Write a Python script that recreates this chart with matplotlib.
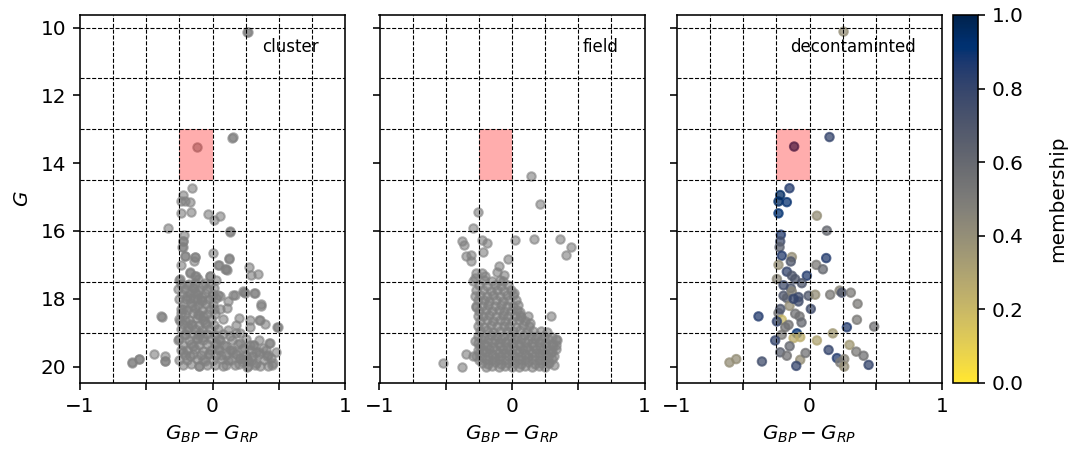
import numpy as np
import matplotlib
matplotlib.use('Agg')
import matplotlib.pyplot as plt
from matplotlib.patches import Rectangle
from matplotlib.cm import ScalarMappable
from matplotlib.colors import Normalize

# decontaminated members: (colour, G, membership)
decon_pts = [
    (0.257, 10.12, 0.40), (0.151, 13.23, 0.80), (-0.116, 13.51, 0.95),
    (-0.151, 14.74, 0.85), (-0.221, 14.94, 0.95), (-0.234, 15.13, 0.95),
    (-0.171, 15.15, 0.90), (-0.234, 15.48, 0.92), (0.056, 15.55, 0.40),
    (0.131, 15.99, 0.60), (-0.216, 16.11, 0.85), (-0.221, 16.31, 0.75),
    (-0.226, 16.48, 0.65), (-0.209, 16.73, 0.85), (-0.133, 16.77, 0.40),
    (-0.141, 16.90, 0.70), (0.126, 16.80, 0.85), (-0.234, 17.00, 0.40),
    (0.051, 17.00, 0.50), (0.101, 17.13, 0.60), (-0.171, 17.20, 0.80),
    (-0.133, 17.32, 0.70), (-0.108, 17.42, 0.70), (-0.020, 17.32, 0.85),
    (-0.058, 17.54, 0.70), (-0.246, 17.42, 0.45), (-0.141, 17.69, 0.70),
    (-0.196, 17.91, 0.70), (-0.171, 17.98, 0.65), (-0.133, 17.79, 0.45),
    (-0.083, 17.95, 0.75), (-0.083, 18.08, 0.75), (-0.007, 17.91, 0.70),
    (0.043, 17.88, 0.40), (0.156, 17.88, 0.50), (0.227, 17.76, 0.45),
    (0.244, 17.82, 0.70), (0.312, 17.82, 0.50), (0.363, 18.15, 0.50),
    (-0.151, 18.21, 0.40), (-0.234, 18.42, 0.55), (-0.385, 18.52, 0.85),
    (-0.108, 18.44, 0.55), (-0.075, 18.52, 0.55), (-0.209, 18.62, 0.20),
    (-0.246, 18.67, 0.80), (-0.158, 18.77, 0.55), (-0.183, 18.84, 0.55),
    (0.358, 18.62, 0.50), (0.488, 18.82, 0.55), (0.282, 18.84, 0.85),
    (0.176, 19.02, 0.35), (-0.095, 19.02, 0.90), (-0.209, 19.06, 0.50),
    (-0.120, 19.16, 0.25), (-0.070, 19.13, 0.25), (-0.259, 19.23, 0.80),
    (0.056, 19.23, 0.30), (0.302, 19.36, 0.35), (-0.221, 19.58, 0.65),
    (-0.171, 19.68, 0.55), (0.144, 19.51, 0.80), (0.353, 19.56, 0.50),
    (0.408, 19.68, 0.55), (0.207, 19.75, 0.85), (0.262, 19.78, 0.45),
    (0.232, 19.88, 0.50), (0.262, 20.00, 0.40), (0.446, 19.95, 0.80),
    (-0.070, 19.80, 0.40), (-0.100, 19.98, 0.80), (-0.359, 19.85, 0.75),
    (-0.553, 19.78, 0.40), (-0.604, 19.88, 0.40), (-0.196, 17.60, 0.75),
    (-0.120, 18.00, 0.80), (-0.220, 18.30, 0.70), (-0.060, 18.70, 0.60),
    (-0.150, 19.40, 0.60), (0.010, 18.30, 0.75), (-0.030, 19.60, 0.55),
]

# extra stars in the cluster field of view (not members)
cluster_extra = [
    (0.270, 10.14), (0.150, 13.26), (-0.210, 15.13), (-0.164, 15.43), (-0.033, 15.51),
    (0.010, 15.67), (-0.335, 15.92), (0.135, 16.02), (-0.222, 16.31), (-0.227, 16.46),
    (0.000, 16.64), (-0.209, 16.73), (-0.134, 16.77), (0.125, 16.83), (0.042, 17.00),
    (0.093, 17.13), (0.110, 17.15), (0.276, 17.07), (0.294, 17.29), (0.344, 17.27),
    (-0.172, 17.25), (-0.121, 17.32), (-0.021, 17.34), (0.030, 17.44), (-0.252, 17.44),
    (0.055, 17.91), (0.168, 17.88), (0.236, 17.79), (0.319, 17.83), (0.118, 18.08),
    (0.369, 18.20), (0.110, 18.28), (0.200, 18.57), (0.286, 18.62), (0.352, 18.64),
    (0.394, 18.74), (0.495, 18.84), (0.180, 18.77), (-0.383, 18.54),
    (-0.604, 19.90), (-0.556, 19.78), (-0.440, 19.63), (-0.357, 19.69), (-0.357, 19.84),
    (0.432, 19.31), (0.483, 19.56), (0.445, 19.75), (0.420, 19.99), (0.332, 19.56),
    (0.281, 19.36), (0.206, 19.31), (0.155, 19.56), (0.206, 19.75), (0.269, 19.85),
    (0.332, 19.90), (0.118, 19.80), (0.067, 19.65), (0.080, 19.99), (0.030, 19.31),
    (0.130, 19.11), (0.206, 19.02), (0.427, 19.31), (0.380, 19.45), (0.240, 19.45),
    (0.100, 19.40), (0.050, 19.50), (0.170, 19.95), (0.300, 19.68), (0.360, 19.98),
    (0.460, 19.90),
    (-0.24, 17.55), (-0.18, 17.57), (-0.13, 17.53), (-0.07, 17.58), (-0.02, 17.55),
    (-0.26, 17.70), (-0.21, 17.72), (-0.15, 17.68), (-0.10, 17.73), (-0.04, 17.70), (0.01, 17.69),
    (-0.23, 17.85), (-0.17, 17.83), (-0.12, 17.87), (-0.06, 17.84), (0.00, 17.86),
    (-0.25, 18.00), (-0.20, 18.02), (-0.14, 17.98), (-0.09, 18.03), (-0.03, 18.00), (0.03, 17.99),
    (-0.22, 18.15), (-0.16, 18.13), (-0.11, 18.17), (-0.05, 18.14), (0.00, 18.16),
    (-0.24, 18.30), (-0.19, 18.32), (-0.13, 18.28), (-0.08, 18.33), (-0.02, 18.30), (0.06, 18.29),
    (-0.21, 18.45), (-0.15, 18.43), (-0.10, 18.47), (-0.04, 18.44), (0.02, 18.46),
    (-0.25, 18.60), (-0.18, 18.62), (-0.12, 18.58), (-0.07, 18.63), (-0.01, 18.60), (0.08, 18.59),
    (-0.22, 18.75), (-0.16, 18.73), (-0.10, 18.77), (-0.05, 18.74), (0.01, 18.76),
    (-0.24, 18.90), (-0.19, 18.92), (-0.13, 18.88), (-0.08, 18.93), (-0.02, 18.90), (0.04, 18.89), (0.12, 18.91),
    (-0.21, 19.05), (-0.15, 19.03), (-0.10, 19.07), (-0.04, 19.04), (0.02, 19.06), (0.08, 19.05),
    (-0.25, 19.20), (-0.18, 19.22), (-0.12, 19.18), (-0.07, 19.23), (-0.01, 19.20), (0.05, 19.19),
    (0.15, 19.21), (0.25, 19.18), (0.35, 19.22),
    (-0.22, 19.35), (-0.16, 19.33), (-0.10, 19.37), (-0.04, 19.34), (0.02, 19.36), (0.09, 19.35),
    (0.19, 19.33), (0.31, 19.37),
    (-0.24, 19.50), (-0.19, 19.52), (-0.13, 19.48), (-0.07, 19.53), (-0.01, 19.50), (0.04, 19.49),
    (0.13, 19.51), (0.22, 19.48), (0.28, 19.52), (0.40, 19.50),
    (-0.21, 19.65), (-0.15, 19.63), (-0.09, 19.67), (-0.03, 19.64), (0.03, 19.66), (0.10, 19.65),
    (0.18, 19.63), (0.25, 19.67), (0.35, 19.64), (0.42, 19.66),
    (-0.25, 19.80), (-0.19, 19.82), (-0.12, 19.78), (-0.06, 19.83), (0.00, 19.80), (0.07, 19.79),
    (0.14, 19.81), (0.23, 19.78), (0.30, 19.82), (0.39, 19.80),
    (-0.22, 19.95), (-0.16, 19.93), (-0.10, 19.97), (-0.04, 19.94), (0.02, 19.96), (0.10, 19.95),
    (0.20, 19.93), (0.27, 19.97), (0.32, 19.94),
]

# field stars
field_pts = [
    (0.140, 14.37), (0.211, 15.20), (-0.255, 15.43), (-0.293, 15.92), (-0.377, 16.31),
    (-0.362, 16.41), (-0.230, 16.28), (-0.186, 16.36), (-0.222, 16.61), (-0.344, 16.73),
    (-0.306, 16.70), (-0.306, 16.90), (0.025, 16.28), (0.165, 16.24), (0.364, 16.24),
    (0.445, 16.46), (0.407, 16.70), (-0.033, 16.83), (-0.095, 17.03), (-0.115, 17.20),
    (-0.059, 17.29), (-0.069, 17.49), (-0.230, 17.25), (-0.204, 17.34), (-0.280, 17.39),
    (-0.268, 17.25), (-0.293, 17.49), (-0.280, 17.91), (-0.268, 18.23), (0.018, 17.83),
    (0.043, 18.18), (0.058, 18.38), (0.069, 18.54), (0.120, 18.52), (0.135, 18.72),
    (0.293, 18.50), (0.262, 18.97), (0.339, 19.21), (0.331, 19.36), (0.293, 19.56),
    (-0.349, 19.62), (-0.518, 19.90), (-0.377, 20.00), (-0.280, 19.26), (-0.293, 19.70),
    (0.280, 19.90), (0.318, 19.95),
    (-0.21, 17.45), (-0.15, 17.47), (-0.09, 17.44),
    (-0.25, 17.60), (-0.19, 17.62), (-0.13, 17.58), (-0.08, 17.61), (-0.03, 17.59),
    (-0.27, 17.75), (-0.22, 17.73), (-0.16, 17.77), (-0.11, 17.74), (-0.06, 17.76), (-0.01, 17.75),
    (-0.24, 17.90), (-0.19, 17.92), (-0.14, 17.88), (-0.09, 17.91), (-0.04, 17.89), (0.01, 17.90),
    (-0.26, 18.05), (-0.21, 18.03), (-0.17, 18.07), (-0.12, 18.04), (-0.07, 18.06), (-0.02, 18.05),
    (0.03, 18.03),
    (-0.27, 18.20), (-0.23, 18.22), (-0.18, 18.18), (-0.13, 18.21), (-0.08, 18.19), (-0.04, 18.20),
    (0.01, 18.22),
    (-0.25, 18.35), (-0.20, 18.33), (-0.15, 18.37), (-0.10, 18.34), (-0.06, 18.36), (-0.01, 18.35),
    (0.04, 18.33),
    (-0.26, 18.50), (-0.22, 18.52), (-0.17, 18.48), (-0.12, 18.51), (-0.07, 18.49), (-0.03, 18.50),
    (0.02, 18.52), (0.06, 18.48),
    (-0.24, 18.65), (-0.19, 18.63), (-0.14, 18.67), (-0.09, 18.64), (-0.05, 18.66), (0.00, 18.65),
    (0.05, 18.63), (0.10, 18.67),
    (-0.26, 18.80), (-0.21, 18.82), (-0.16, 18.78), (-0.11, 18.81), (-0.06, 18.79), (-0.02, 18.80),
    (0.03, 18.82), (0.08, 18.78), (0.13, 18.81),
    (-0.24, 18.95), (-0.19, 18.93), (-0.14, 18.97), (-0.09, 18.94), (-0.04, 18.96), (0.01, 18.95),
    (0.06, 18.93), (0.11, 18.97), (0.16, 18.94), (0.22, 18.96),
    (-0.26, 19.10), (-0.21, 19.12), (-0.16, 19.08), (-0.11, 19.11), (-0.06, 19.09), (-0.01, 19.10),
    (0.04, 19.12), (0.09, 19.08), (0.14, 19.11), (0.19, 19.09), (0.24, 19.10), (0.30, 19.12),
    (-0.23, 19.20), (-0.18, 19.18), (-0.13, 19.22), (-0.08, 19.19), (-0.03, 19.21), (0.02, 19.20),
    (0.07, 19.18), (0.12, 19.22), (0.17, 19.19), (0.22, 19.21), (0.27, 19.20), (0.33, 19.18),
    (-0.26, 19.30), (-0.21, 19.32), (-0.15, 19.28), (-0.10, 19.31), (-0.05, 19.29), (0.00, 19.30),
    (0.05, 19.32), (0.10, 19.28), (0.15, 19.31), (0.20, 19.29), (0.25, 19.30), (0.30, 19.32),
    (-0.24, 19.40), (-0.19, 19.38), (-0.14, 19.42), (-0.09, 19.39), (-0.04, 19.41), (0.01, 19.40),
    (0.06, 19.38), (0.11, 19.42), (0.16, 19.39), (0.21, 19.41), (0.26, 19.40), (0.31, 19.38),
    (-0.26, 19.50), (-0.22, 19.52), (-0.17, 19.48), (-0.12, 19.51), (-0.07, 19.49), (-0.02, 19.50),
    (0.03, 19.52), (0.08, 19.48), (0.13, 19.51), (0.18, 19.49), (0.23, 19.50), (0.28, 19.52),
    (0.33, 19.48),
    (-0.25, 19.60), (-0.20, 19.58), (-0.15, 19.62), (-0.10, 19.59), (-0.05, 19.61), (0.00, 19.60),
    (0.05, 19.58), (0.10, 19.62), (0.15, 19.59), (0.20, 19.61), (0.25, 19.60), (0.30, 19.58),
    (-0.27, 19.70), (-0.23, 19.72), (-0.18, 19.68), (-0.13, 19.71), (-0.08, 19.69), (-0.03, 19.70),
    (0.02, 19.72), (0.07, 19.68), (0.12, 19.71), (0.17, 19.69), (0.22, 19.70), (0.27, 19.72),
    (0.32, 19.68),
    (-0.25, 19.80), (-0.20, 19.78), (-0.15, 19.82), (-0.10, 19.79), (-0.05, 19.81), (0.00, 19.80),
    (0.05, 19.78), (0.10, 19.82), (0.15, 19.79), (0.20, 19.81), (0.25, 19.80), (0.30, 19.78),
    (-0.23, 19.90), (-0.18, 19.92), (-0.13, 19.88), (-0.08, 19.91), (-0.03, 19.89), (0.02, 19.90),
    (0.07, 19.92), (0.12, 19.88), (0.17, 19.91), (0.22, 19.89), (0.27, 19.90),
    (-0.20, 20.00), (-0.15, 19.98), (-0.10, 20.02), (-0.05, 19.99), (0.00, 20.01), (0.05, 20.00),
    (0.10, 19.98), (0.15, 20.02), (0.20, 19.99), (0.25, 20.01),
]

panel_titles = ['cluster', 'field', 'decontaminted']
grid_x = [-0.75, -0.5, -0.25, 0, 0.25, 0.5, 0.75]
grid_g = [10, 11.5, 13, 14.5, 16, 17.5, 19]
box_x = (-0.25, 0.0)
box_g = (13.0, 14.5)

decon_x = [p[0] for p in decon_pts]
decon_g = [p[1] for p in decon_pts]
decon_m = [p[2] for p in decon_pts]
cluster_x = decon_x + [p[0] for p in cluster_extra]
cluster_g = decon_g + [p[1] for p in cluster_extra]
field_x = [p[0] for p in field_pts]
field_g = [p[1] for p in field_pts]

fig = plt.figure(figsize=(1071 / 144, 455 / 144), dpi=144)
W, H = 1071, 455
lefts = [80, 379.5, 677]
axes = []
for i, l in enumerate(lefts):
    rect = [l / W, 1 - 382.5 / H, 265 / W, 367.5 / H]
    if i == 0:
        ax = fig.add_axes(rect)
    else:
        ax = fig.add_axes(rect, sharey=axes[0])
    axes.append(ax)
cax = fig.add_axes([953 / W, 1 - 383 / H, 25 / W, 368 / H])

sz = 18
axes[0].scatter(cluster_x, cluster_g, s=sz, color='gray', alpha=0.6)
axes[1].scatter(field_x, field_g, s=sz, color='gray', alpha=0.6)
axes[2].scatter(decon_x, decon_g, s=sz, c=decon_m, cmap='cividis_r',
                vmin=0, vmax=1, alpha=0.75)

for ax, title in zip(axes, panel_titles):
    ax.add_patch(Rectangle((box_x[0], box_g[0]), box_x[1] - box_x[0],
                           box_g[1] - box_g[0], color='red', alpha=0.32, lw=0))
    for gx in grid_x:
        ax.axvline(gx, color='k', ls='--', lw=0.55)
    for gg in grid_g:
        ax.axhline(gg, color='k', ls='--', lw=0.55)
    ax.set_xlim(-1, 1)
    ax.set_xticks([-1, -0.5, 0, 0.5, 1])
    ax.set_xticklabels(['\u22121', '', '0', '', '1'])
    ax.set_xlabel(r'$G_{BP}-G_{RP}$')
    ax.text(0.9, 0.9, title, transform=ax.transAxes, ha='right', fontsize='small')

axes[0].set_ylim(20.47, 9.63)
axes[0].set_yticks([10, 12, 14, 16, 18, 20])
axes[0].set_ylabel(r'$G$')
for ax in axes[1:]:
    ax.tick_params(labelleft=False)

sm = ScalarMappable(norm=Normalize(0, 1), cmap='cividis_r')
cbar = fig.colorbar(sm, cax=cax)
cbar.set_label('membership', labelpad=12)

fig.savefig('out.png', dpi=144)
